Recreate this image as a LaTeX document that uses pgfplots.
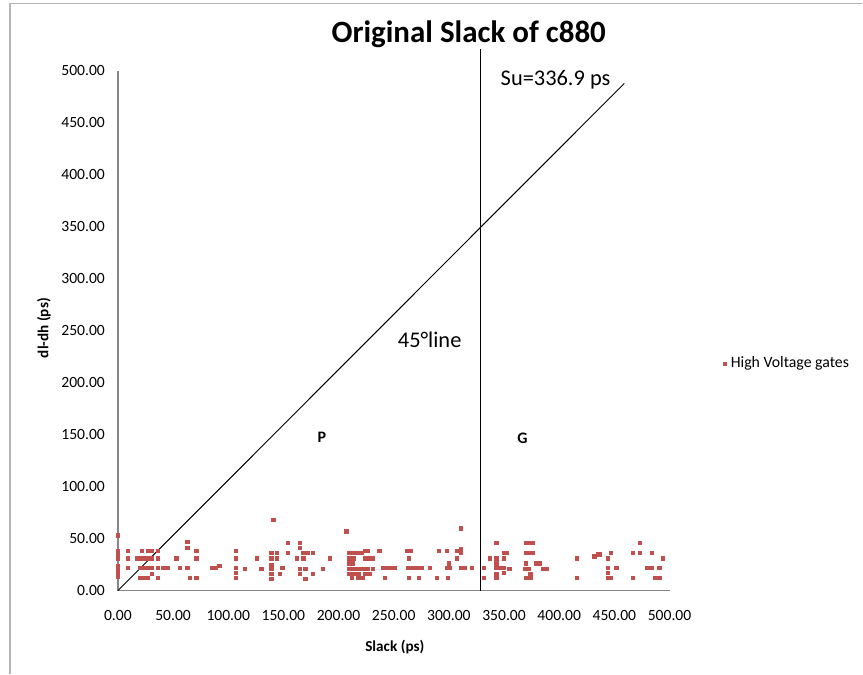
\documentclass[border=0pt]{standalone}
\usepackage{fontspec}
\setmainfont{Carlito}
\usepackage{pgfplots}
\pgfplotsset{compat=1.18}
\definecolor{hvred}{RGB}{192,80,77}
\definecolor{axgray}{RGB}{134,134,134}
\definecolor{framegray}{RGB}{180,180,180}

\begin{document}
\begin{tikzpicture}
\begin{axis}[
  at={(0,0)}, anchor=origin,
  scale only axis,
  width=276pt, height=260pt,
  xmin=0, xmax=500, ymin=0, ymax=500,
  axis x line=bottom, axis y line=left,
  axis line style={-, draw=axgray, line width=0.6pt},
  xtick={0,50,...,500}, ytick={0,50,...,500},
  major tick length=0pt,
  tick label style={font=\fontsize{7.8}{9}\selectfont},
  xticklabel style={yshift=-6.5pt},
  yticklabel style={xshift=-3pt},
  /pgf/number format/.cd, fixed, fixed zerofill, precision=2, 1000 sep={}, assume math mode=true,
  /pgfplots/.cd,
  clip=false,
  title={Original Slack of c880},
  title style={at={(0.636,1.073)}, anchor=center, yshift=-6.5pt, font=\bfseries\fontsize{15.5}{18}\selectfont},
  xlabel={Slack (ps)},
  xlabel style={at={(0.502,-0.108)}, anchor=center, font=\bfseries\fontsize{7.6}{9}\selectfont},
  ylabel={dl-dh (ps)},
  ylabel style={at={(-0.134,0.505)}, anchor=center, font=\bfseries\fontsize{7.6}{9}\selectfont},
  legend style={at={(1.097,0.4365)}, anchor=west, draw=none, fill=none,
    font=\fontsize{7.9}{9}\selectfont, inner sep=0pt},
  legend cell align=left,
]
% 45 degree reference line
\addplot[forget plot, black, line width=0.5pt] coordinates {(0,0) (459,488)};
% Su line
\addplot[forget plot, black, line width=0.6pt] coordinates {(329,0) (329,521)};

\addplot[only marks, mark=square*, mark size=0.85pt, color=hvred] coordinates {
(0,53)(0,38)(0,35)(0,31)(0,24)(0,21)(0,17)(0,13)
(9,38)(9,31)(9,22)
(17,31)(20,31)(24,31)(27,31)(22,38)(27,38)(20,22)(24,22)(27,22)(20,12)(24,12)(27,12)
(31,38)(31,31)(31,22)(31,16)
(36,38)(36,31)(36,22)(36,12)
(41,22)(45,22)(53,31)(56,22)(63,47)(63,41)(63,22)(65,12)(71,38)(71,31)(71,12)
(85,22)(89,22)(92,24)
(107,38)(107,31)(107,22)(107,17)(107,12)
(115,21)(126,31)(130,21)
(141,68)(139,36)(139,31)(139,25)(139,21)(139,16)(139,11)(144,36)(144,31)
(147,16)(149,22)(154,46)(154,36)(162,31)(165,46)(165,41)(165,21)(165,16)
(168,36)(172,36)(168,31)(170,21)(170,11)(177,36)(177,16)(186,21)(192,31)(207,57)
(210,36)(213,36)(217,36)(221,36)(210,31)(214,31)(210,26)(213,26)
(210,21)(212,21)(215,21)(218,21)(221,21)(210,16)(214,16)(218,16)(212,12)(218,12)
(224,38)(226,38)(224,31)(228,31)(224,21)(226,21)(224,16)(228,16)(222,12)
(231,31)(231,21)(237,38)(240,22)(243,22)(247,22)(251,22)(242,12)
(262,38)(265,38)(264,31)(263,22)(266,22)(270,22)(273,22)(275,22)(264,12)(273,12)
(283,22)(289,12)(291,38)(298,22)(301,22)(300,26)(299,12)(298,38)
(307,38)(307,31)(311,60)(311,40)(311,36)(311,22)(314,22)(321,22)(332,22)(332,12)
(337,31)(343,46)(343,31)(343,26)(343,22)(346,22)(343,16)(343,12)
(350,36)(350,31)(350,22)(350,17)(352,36)(355,21)
(369,21)(370,46)(373,46)(376,46)(370,36)(373,36)(376,36)(370,26)(372,21)(374,16)(370,12)(374,12)
(379,26)(382,26)(385,21)(389,21)
(416,12)(416,31)(432,33)(435,35)(437,35)
(444,31)(444,22)(444,17)(444,12)(447,12)(447,36)(452,22)
(467,36)(467,12)(473,46)(473,36)(480,22)(484,22)(484,36)(487,12)(491,12)(491,22)(494,31)
};
\addlegendentry{High Voltage gates}

\node[anchor=west, font=\fontsize{11.2}{13}\selectfont] at (axis cs:340.6,492) {Su=336.9 ps};
\node[font=\fontsize{11.2}{13}\selectfont] at (axis cs:282.6,241) {45°line};
\node[font=\bfseries\fontsize{8}{9}\selectfont] at (axis cs:184.8,147) {P};
\node[font=\bfseries\fontsize{8}{9}\selectfont] at (axis cs:366.8,147) {G};
\end{axis}
% chart frame (left and top edges visible)
\draw[framegray, line width=0.6pt] (-54pt,-41.5pt) -- (-54pt,293.6pt) -- (372.5pt,293.6pt);
\path[use as bounding box] (-59pt,-41.5pt) rectangle (372.5pt,295.5pt);
\end{tikzpicture}
\end{document}
